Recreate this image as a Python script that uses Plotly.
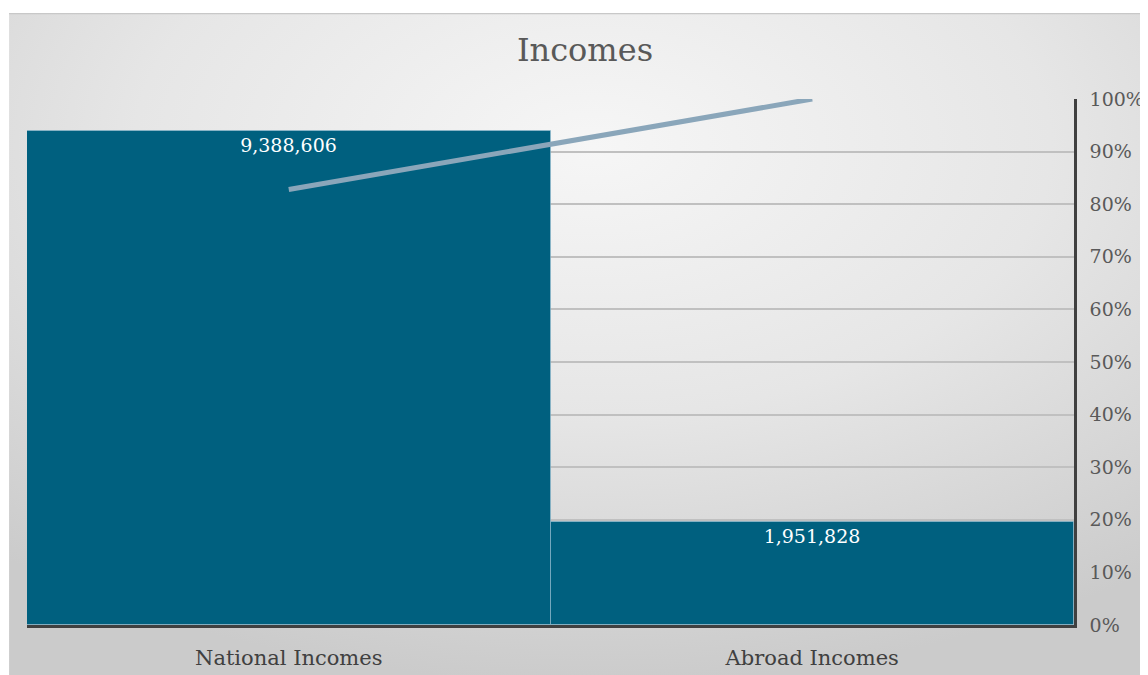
import base64
import plotly.graph_objects as go

categories = ["National Incomes", "Abroad Incomes"]
incomes = [9388606, 1951828]
cumulative_pct = [0.8279, 1.0]
pct_ticks = [0, 0.1, 0.2, 0.3, 0.4, 0.5, 0.6, 0.7, 0.8, 0.9, 1.0]
pct_labels = ["0%", "10%", "20%", "30%", "40%", "50%", "60%", "70%", "80%", "90%", "100%"]

# page has an 8px body margin; figure coordinates = screen - 8
OFF = 8
W, H = 1148, 675
L, T = 27 - OFF, 99 - OFF
R = W - (1076 - OFF)
B = H - (625 - OFF)
pw, ph = W - L - R, H - T - B
FX, FY = 9 - OFF, 13 - OFF  # frame top-left in figure coords

svg = (
    '<svg xmlns="http://www.w3.org/2000/svg" width="1147" height="670" viewBox="0 0 1147 670" preserveAspectRatio="none">'
    '<defs><radialGradient id="g" cx="51%" cy="20%" r="80%" gradientUnits="objectBoundingBox">'
    '<stop offset="0%" stop-color="#f6f6f6"/><stop offset="50%" stop-color="#e6e6e6"/>'
    '<stop offset="100%" stop-color="#cbcbcb"/></radialGradient></defs>'
    '<rect x="0" y="0" width="1147" height="670" fill="url(#g)"/>'
    '<line x1="0" y1="0.5" x2="1147" y2="0.5" stroke="#c8c8c8" stroke-width="1.5"/>'
    '</svg>'
)
src = "data:image/svg+xml;base64," + base64.b64encode(svg.encode()).decode()

font = "DejaVu Serif"

fig = go.Figure()
fig.add_trace(go.Bar(
    x=categories, y=incomes,
    marker=dict(color="#00607f", line=dict(color="rgba(150,190,210,0.6)", width=1)),
    text=[f"{v:,}" for v in incomes], textposition="inside", insidetextanchor="end",
    textfont=dict(color="white", size=19, family=font),
    width=1.0, yaxis="y", showlegend=False,
))
fig.add_trace(go.Scatter(
    x=categories, y=cumulative_pct, mode="lines",
    line=dict(color="#8aa6ba", width=5), yaxis="y2", showlegend=False,
))

fig.update_layout(
    width=W, height=H,
    margin=dict(l=L, r=R, t=T, b=B),
    paper_bgcolor="white", plot_bgcolor="rgba(0,0,0,0)",
    bargap=0,
    title=dict(text="Incomes", x=(585 - OFF) / W, xanchor="center", y=1 - (50 - OFF) / H, yanchor="middle",
               font=dict(family=font, size=32, color="#595959")),
    xaxis=dict(showgrid=False, showline=True, linecolor="#404040", linewidth=2.5,
               tickfont=dict(family=font, size=21, color="#404040"), ticks="",
               ticklabelstandoff=12, range=[-0.5, 1.5]),
    yaxis=dict(range=[0, 10000000], visible=False, showgrid=False),
    yaxis2=dict(range=[0, 1], overlaying="y", side="right", tickvals=pct_ticks, ticktext=pct_labels,
                showgrid=True, gridcolor="#c0c0c0", gridwidth=1.5, showline=True, linecolor="#404040",
                linewidth=2.5, ticks="", ticklabelstandoff=9,
                tickfont=dict(family=font, size=19, color="#595959"),
                zeroline=False),
    images=[dict(source=src, xref="paper", yref="paper",
                 x=(FX - L) / pw, y=1 + (T - FY) / ph, sizex=(W - FX) / pw, sizey=(H - FY) / ph,
                 xanchor="left", yanchor="top", sizing="stretch", layer="below")],
)
fig.write_html("out.html", config={"displayModeBar": False})
